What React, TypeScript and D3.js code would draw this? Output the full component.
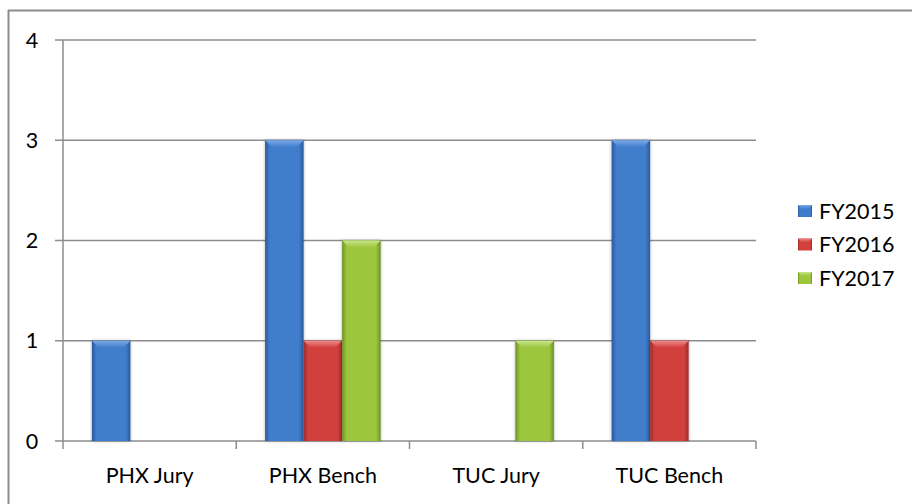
import React from "react";
import * as d3 from "d3";

const categories = ["PHX Jury", "PHX Bench", "TUC Jury", "TUC Bench"];
const seriesNames = ["FY2015", "FY2016", "FY2017"];
const fy2015 = [1, 3, 0, 3];
const fy2016 = [0, 1, 0, 1];
const fy2017 = [0, 2, 1, 0];
const yTicks = [0, 1, 2, 3, 4];

const seriesValues = [fy2015, fy2016, fy2017];
const colors = [
  { dark: "#2a5a9c", mid: "#3f7dcb", light: "#7aaae6" },
  { dark: "#9a2e2c", mid: "#d23f3d", light: "#ec8a88" },
  { dark: "#6f9128", mid: "#9cc63c", light: "#c8e68a" },
];

const W = 912, H = 504;
const M = { left: 63, right: 756, top: 40, bottom: 441 };
const FONT = "Lato, 'Open Sans', sans-serif";
const FS = 21.5;

export default function App() {
  const x = d3.scaleBand<string>().domain(categories).range([M.left, M.right]).paddingInner(0).paddingOuter(0);
  const y = d3.scaleLinear().domain([0, 4]).range([M.bottom, M.top]);
  const bw = x.bandwidth() / 4.5;
  const inner = d3.scaleBand<number>().domain([0, 1, 2]).range([0, bw * 3]);

  return (
    <div style={{ position: "absolute", left: 0, top: 0 }}>
      <svg width={W} height={H} style={{ display: "block", fontFamily: FONT }}>
        <defs>
          {colors.map((c, i) => (
            <g key={i}>
              <linearGradient id={`g${i}`} x1="0" x2="1" y1="0" y2="0">
                <stop offset="0" stopColor={c.dark} />
                <stop offset="0.12" stopColor={c.mid} />
                <stop offset="0.5" stopColor={c.mid} />
                <stop offset="0.88" stopColor={c.mid} />
                <stop offset="1" stopColor={c.dark} />
              </linearGradient>
              <linearGradient id={`t${i}`} x1="0" x2="0" y1="0" y2="1">
                <stop offset="0" stopColor={c.light} />
                <stop offset="1" stopColor={c.mid} />
              </linearGradient>
            </g>
          ))}
          <filter id="sh" x="-20%" y="-5%" width="140%" height="110%">
            <feDropShadow dx="0" dy="0" stdDeviation="1.5" floodColor="#000" floodOpacity="0.35" />
          </filter>
        </defs>
        <rect x={0} y={0} width={W} height={H} fill="#fff" />
        {/* outer border */}
        <line x1={8.5} x2={8.5} y1={10} y2={H} stroke="#8c8c8c" strokeWidth={2} />
        <line x1={8} x2={W} y1={10.5} y2={10.5} stroke="#8c8c8c" strokeWidth={2} />

        {/* gridlines */}
        {yTicks.map((t) => (
          <g key={t}>
            <line x1={M.left - 8} x2={M.right} y1={y(t)} y2={y(t)} stroke="#8c8c8c" strokeWidth={1.5} />
            <text x={32} y={y(t)} dy="0.35em" textAnchor="middle" fontSize={FS} fill="#000">{t}</text>
          </g>
        ))}
        {/* y axis */}
        <line x1={M.left} x2={M.left} y1={M.top} y2={M.bottom} stroke="#8c8c8c" strokeWidth={1.5} />
        {/* x category ticks */}
        {[...categories.map((c) => x(c)!), M.right].map((px, i) => (
          <line key={i} x1={px} x2={px} y1={M.bottom} y2={M.bottom + 8} stroke="#8c8c8c" strokeWidth={1.5} />
        ))}

        {/* bars */}
        {seriesValues.map((vals, si) =>
          vals.map((v, ci) => {
            if (v <= 0) return null;
            const bx = x(categories[ci])! + bw * 0.75 + inner(si)!;
            const by = y(v);
            const h = y(0) - by;
            const bev = 7;
            return (
              <g key={`${si}-${ci}`}>
                <rect x={bx} y={by} width={bw} height={h} fill={`url(#g${si})`} filter="url(#sh)" />
                <path
                  d={`M${bx},${by} L${bx + bw},${by} L${bx + bw - bev},${by + bev} L${bx + bev},${by + bev} Z`}
                  fill={`url(#t${si})`}
                />
              </g>
            );
          })
        )}

        {/* category labels */}
        {categories.map((c) => (
          <text key={c} x={x(c)! + x.bandwidth() / 2} y={475} textAnchor="middle" dy="0.35em" fontSize={FS} fill="#000">
            {c}
          </text>
        ))}

        {/* legend */}
        {seriesNames.map((s, i) => {
          const ly = 211 + i * 33.5;
          return (
            <g key={s}>
              <rect x={798} y={ly - 6} width={14} height={12} fill={`url(#g${i})`} />
              <path d={`M798,${ly - 6} L812,${ly - 6} L808,${ly - 2} L802,${ly - 2} Z`} fill={`url(#t${i})`} />
              <text x={819} y={ly} dy="0.35em" fontSize={FS} fill="#000">{s}</text>
            </g>
          );
        })}
      </svg>
    </div>
  );
}
